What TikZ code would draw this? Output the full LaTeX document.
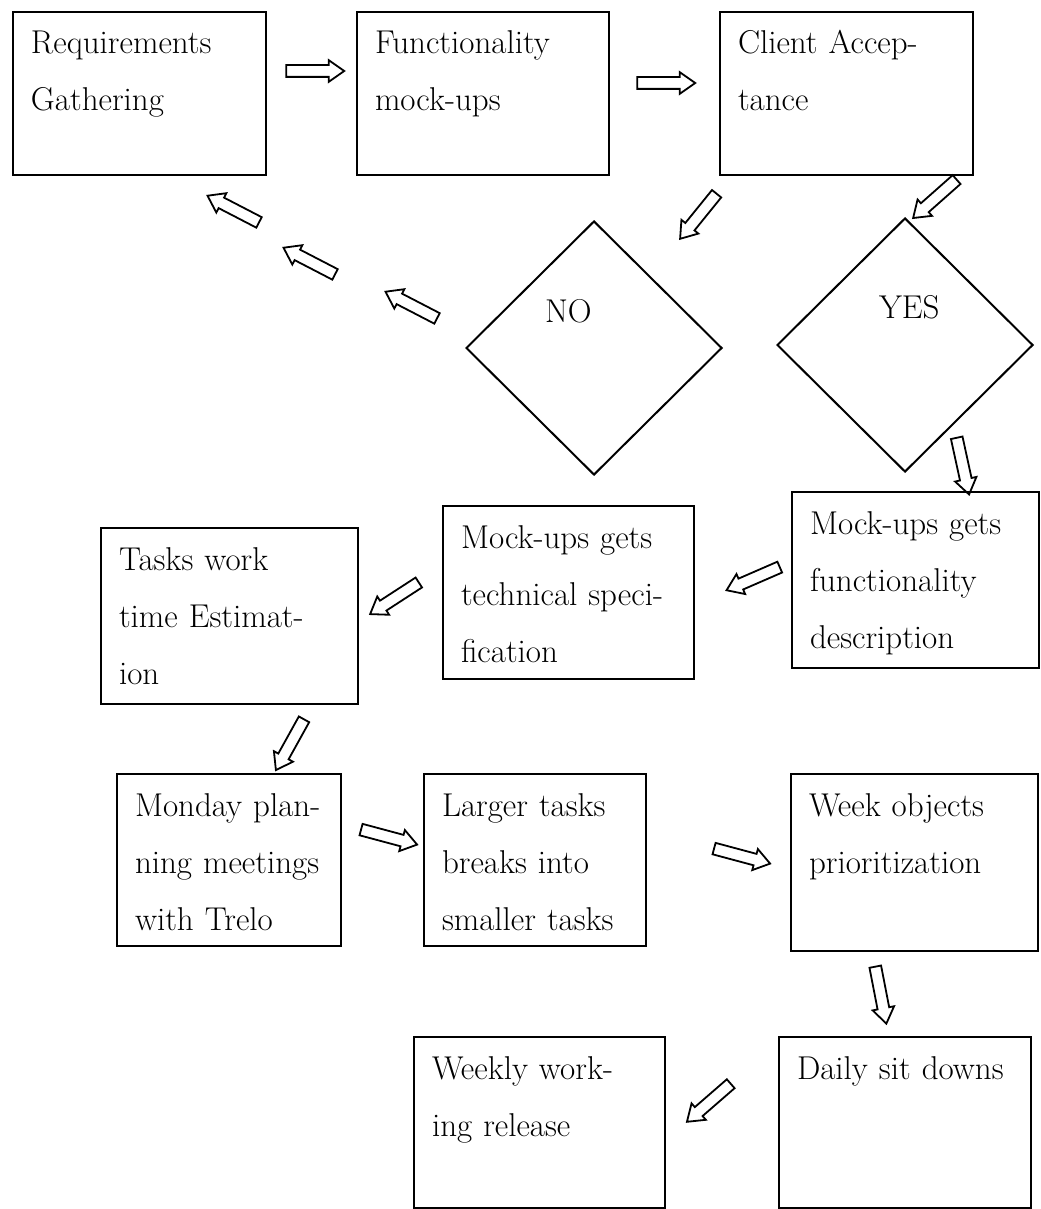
\documentclass[tikz,border=0pt]{standalone}
\usetikzlibrary{shapes.geometric,shapes.arrows}

\tikzset{
    stage/.style 2 args = {%
        draw,
        line width = 1pt,
        anchor = north west,
        align = left,
        inner xsep = 9pt,
        inner ysep = 10pt,
        text height = 11pt,
        text width = #1,
        text depth = #2
    },
    decision/.style = {%
        diamond,
        draw,
        line width = 1pt,
        inner sep = 0pt,
        minimum width = 128pt,
        minimum height = 127pt
    },
    hollow/.style = {%
        single arrow,
        draw,
        line width = 0.9pt,
        inner sep = 2.5pt,
        minimum height = 29pt,
        single arrow head extend = 2.5pt,
        single arrow tip angle = 70,
        rotate = #1
    }
}

\begin{document}
\begin{tikzpicture}[x = 0.5pt, y = -0.5pt, font = \fontsize{16.5}{28.5}\selectfont]
        \useasboundingbox (0, 0) rectangle (1040, 1209);

        \begin{scope}
            % Boxes of the flow.
            \node[stage = {108.5pt}{50.5pt}] (Req) at (12, 11) {Requirements\\Gathering};
            \node[stage = {108pt}{50.5pt}] (Func) at (356, 11) {Functionality\\mock-ups};
            \node[stage = {108.5pt}{50.5pt}] (Client) at (719, 11) {Client Accep-\\tance};
            \node[stage = {105.5pt}{57pt}] (Desc) at (791, 491) {Mock-ups gets\\functionality\\description};
            \node[stage = {107.5pt}{55.5pt}] (Tech) at (442, 505) {Mock-ups gets\\technical speci-\\fication};
            \node[stage = {110.5pt}{57pt}] (Est) at (100, 527) {Tasks work\\time Estimat-\\ion};
            \node[stage = {94pt}{55pt}] (Plan) at (116, 773) {Monday plan-\\ning meetings\\with Trelo};
            \node[stage = {93pt}{55pt}] (Split) at (423, 773) {Larger tasks\\breaks into\\smaller tasks};
            \node[stage = {105.5pt}{57.5pt}] (Prio) at (790, 773) {Week objects\\prioritization};
            \node[stage = {107.5pt}{54.5pt}] (Release) at (413, 1036) {Weekly work-\\ing release};
            \node[stage = {108pt}{54.5pt}] (Daily) at (778, 1036) {Daily sit downs};

            % Decisions.
            \node[decision] (No) at (594, 348) {};
            \node[decision] (Yes) at (905, 345) {};
            \node[anchor = base west] (NoText) at (538, 322) {NO};
            \node[anchor = base west] (YesText) at (872, 318) {YES};
        \end{scope}

        \begin{scope}
            % Hollow arrows between the boxes.
            \node[hollow = 0] (A1) at (311, 71) {};
            \node[hollow = 0] (A2) at (662, 83) {};
            \node[hollow = -129] (A3) at (701, 213) {};
            \node[hollow = -138.5] (A4) at (938, 196) {};
            \node[hollow = 152.6] (A5) at (237, 211) {};
            \node[hollow = 152.6] (A6) at (313, 263) {};
            \node[hollow = 152.6] (A7) at (415, 307) {};
            \node[hollow = -77.7] (A8) at (962, 462) {};
            \node[hollow = -156.5] (A9) at (757, 577) {};
            \node[hollow = -147] (A10) at (398, 596) {};
            \node[hollow = -119] (A11) at (292, 741) {};
            \node[hollow = -15] (A12) at (385, 836) {};
            \node[hollow = -15] (A13) at (738, 855) {};
            \node[hollow = -79] (A14) at (880, 991) {};
            \node[hollow = -139] (A15) at (712, 1100) {};
        \end{scope}
    \end{tikzpicture}
\end{document}
